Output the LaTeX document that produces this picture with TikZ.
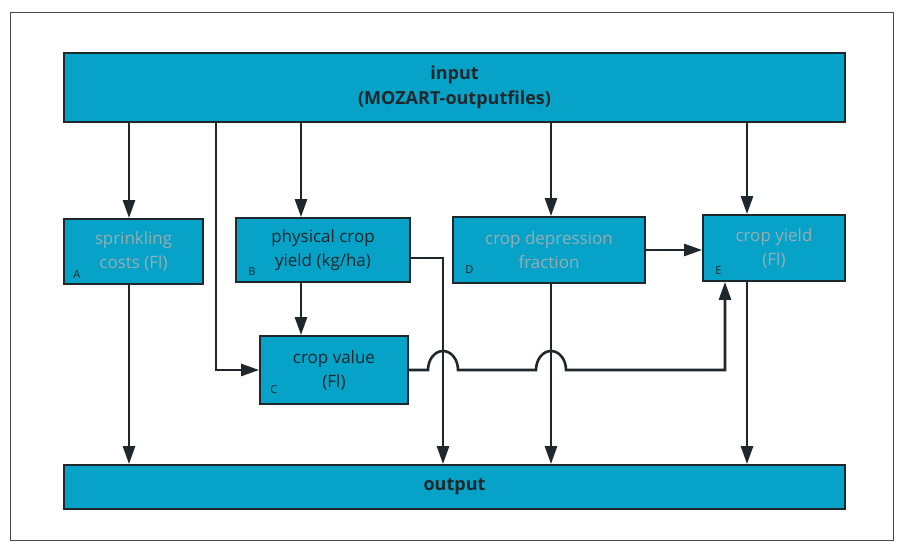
\documentclass[tikz,border=0pt]{standalone}
\usepackage{fontspec}
\setmainfont{Open Sans}
\usetikzlibrary{arrows.meta,calc}
\definecolor{mzFill}{HTML}{06A2C8}
\definecolor{mzInk}{HTML}{1E282C}
\definecolor{mzFaint}{HTML}{98ADB3}
\definecolor{mzFrame}{HTML}{4A4A4A}
\tikzset{
  mz diagram/.style={font=\fontsize{17}{24}\selectfont, text=mzInk,
    line join=miter},
  mz bar/.style={draw=mzInk, fill=mzFill, line width=1.8pt,
    minimum width=781pt, align=center, inner sep=0pt,
    font=\bfseries\fontsize{18}{25}\selectfont},
  mz box/.style={draw=mzInk, fill=mzFill, line width=1.8pt,
    align=center, inner sep=0pt},
  mz faint/.style={mz box, text=mzFaint},
  mz tag/.style={font=\fontsize{11}{11}\selectfont, anchor=base west,
    inner sep=0pt},
  mz arrow/.style={-{Triangle[length=18pt,width=12pt]}, draw=mzInk,
    line width=2.6pt},
  mz frame/.style={draw=mzFrame, line width=0.9pt}
}
\begin{document}
\begin{tikzpicture}[mz diagram,x=1pt,y=-1pt]
\useasboundingbox (0,0) rectangle (898,544);
\draw[mz frame] (10,12) rectangle (893,540);
% bars
\node[mz bar, minimum height=69pt] (input) at (454.5,87.5) {input\\(MOZART-outputfiles)};
\node[mz bar, minimum height=44pt] (output) at (454.5,487) {output};
% modules
\node[mz faint, minimum width=139pt, minimum height=65pt] (sprink) at (133.5,251.5) {sprinkling\\costs (Fl)};
\node[mz box, minimum width=174pt, minimum height=64pt] (phys) at (323,250) {physical crop\\yield (kg/ha)};
\node[mz faint, minimum width=192pt, minimum height=66pt] (depr) at (549,250) {crop depression\\fraction};
\node[mz faint, minimum width=142pt, minimum height=66pt] (yield) at (774,248) {crop yield\\(Fl)};
\node[mz box, minimum width=148pt, minimum height=68pt] (value) at (334,370) {crop value\\(Fl)};
% tags
\node[mz tag] (tagA) at ($(sprink.south west)+(10,-6)$) {A};
\node[mz tag] (tagB) at ($(phys.south west)+(13,-7)$) {B};
\node[mz tag] (tagC) at ($(value.south west)+(11,-11)$) {C};
\node[mz tag] (tagD) at ($(depr.south west)+(13,-10)$) {D};
\node[mz tag] (tagE) at ($(yield.south west)+(13,-7)$) {E};
% columns
\coordinate (xa) at (129,0);
\coordinate (xb) at (216,0);
\coordinate (xc) at (301,0);
\coordinate (xd) at (443,0);
\coordinate (xe) at (551,0);
\coordinate (xf) at (747,0);
\coordinate (xg) at (725,0);
% from input
\draw[mz arrow] (input.south -| xa) -- (sprink.north -| xa);
\draw[mz arrow] (input.south -| xb) |- (value.west);
\draw[mz arrow] (input.south -| xc) -- (phys.north -| xc);
\draw[mz arrow] (input.south -| xe) -- (depr.north -| xe);
\draw[mz arrow] (input.south -| xf) -- (yield.north -| xf);
% between modules
\draw[mz arrow] (phys.south -| xc) -- (value.north -| xc);
\draw[mz arrow] (depr.east) -- (depr.east -| yield.west);
\draw[mz arrow] (value.east) -- ($(value.east -| xd)+(-15,0)$)
  arc[start angle=180,end angle=0,x radius=15pt,y radius=19pt]
  -- ($(value.east -| xe)+(-15,0)$)
  arc[start angle=180,end angle=0,x radius=15pt,y radius=19pt]
  -| (yield.south -| xg);
% to output
\draw[mz arrow] (sprink.south -| xa) -- (output.north -| xa);
\draw[mz arrow] ($(phys.east)+(0,8)$) -| (output.north -| xd);
\draw[mz arrow] (depr.south -| xe) -- (output.north -| xe);
\draw[mz arrow] (yield.south -| xf) -- (output.north -| xf);
\end{tikzpicture}
\end{document}
